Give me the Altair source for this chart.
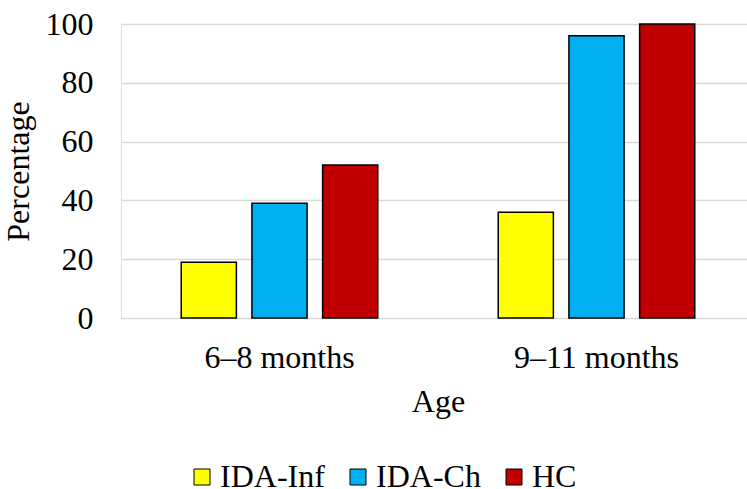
import altair as alt
import pandas as pd

ages = ["6–8 months", "9–11 months"]
groups = ["IDA-Inf", "IDA-Ch", "HC"]
colors = ["#FFFF00", "#00B0F0", "#C00000"]
ida_inf = [19, 36]
ida_ch = [39, 96]
hc = [52, 100]

rows = []
for i, a in enumerate(ages):
    for g, vals in zip(groups, [ida_inf, ida_ch, hc]):
        rows.append({"Age": a, "Group": g, "Percentage": vals[i]})
df = pd.DataFrame(rows)

FONT = "Liberation Serif"
FS = 32

chart = alt.Chart(df).mark_bar(stroke="black", strokeWidth=1.5).encode(
    x=alt.X(
        "Age:N",
        sort=ages,
        scale=alt.Scale(range=[0, 634], paddingInner=0.38, paddingOuter=0.19),
        axis=alt.Axis(
            title="Age",
            labelAngle=0,
            labelFont=FONT,
            labelFontSize=FS,
            labelColor="black",
            labelPadding=24,
            ticks=False,
            domain=False,
            titleFont=FONT,
            titleFontSize=FS,
            titleFontWeight="normal",
            titleColor="black",
            titleBaseline="top",
            titleY=68,
        ),
    ),
    xOffset=alt.XOffset("Group:N", sort=groups, scale=alt.Scale(paddingInner=0.22, paddingOuter=0)),
    y=alt.Y(
        "Percentage:Q",
        scale=alt.Scale(domain=[0, 100], nice=False),
        axis=alt.Axis(
            title="Percentage",
            values=[0, 20, 40, 60, 80, 100],
            labelFont=FONT,
            labelFontSize=FS,
            labelColor="black",
            labelPadding=28,
            ticks=False,
            domain=False,
            grid=True,
            gridColor="#d9d9d9",
            gridWidth=1.5,
            titleFont=FONT,
            titleFontSize=FS,
            titleFontWeight="normal",
            titleColor="black",
            titleAngle=270,
            titleBaseline="alphabetic",
            titleAlign="center",
            titleX=-93,
            titleY=147,
        ),
    ),
    color=alt.Color(
        "Group:N",
        sort=groups,
        scale=alt.Scale(domain=groups, range=colors),
        legend=alt.Legend(
            title=None,
            orient="none",
            direction="horizontal",
            legendX=65,
            legendY=437,
            symbolType="square",
            symbolSize=256,
            symbolStrokeColor="black",
            symbolStrokeWidth=1,
            symbolOpacity=1,
            labelFont=FONT,
            labelFontSize=FS,
            labelColor="black",
            labelOffset=2,
            columnPadding=17,
        ),
    ),
).properties(
    width=626,
    height=294,
    padding={"left": 121, "top": 24, "right": 0, "bottom": 171},
    autosize=alt.AutoSizeParams(type="none"),
).configure_view(stroke=None).configure(background="white")

chart.save("out.html", embed_options={"renderer": "svg", "actions": False})
